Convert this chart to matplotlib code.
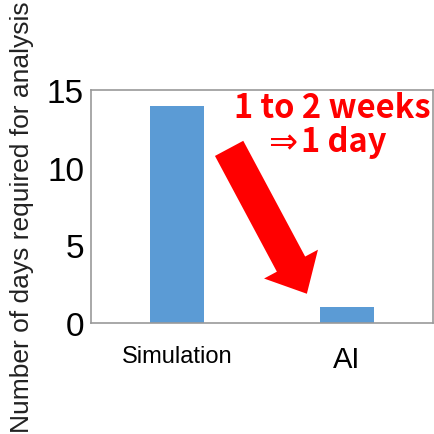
import matplotlib
matplotlib.use('Agg')
import matplotlib.pyplot as plt
from matplotlib.patches import FancyArrowPatch

categories = ['Simulation', 'AI']
days = [14, 1]
yticks = [0, 5, 10, 15]

plt.rcParams['font.family'] = ['Liberation Sans', 'DejaVu Sans']

fig = plt.figure(figsize=(4.35, 4.35), dpi=100)
ax = fig.add_axes([91 / 435, 1 - 324 / 435, 342 / 435, 233 / 435])

ax.bar(range(len(categories)), days, width=0.32, color='#5B9BD5')
ax.set_xlim(-0.506, 1.506)
ax.set_ylim(0, 15)
ax.set_yticks(yticks)
ax.set_yticklabels([str(t) for t in yticks], fontsize=24)
ax.set_xticks(range(len(categories)))
ax.set_xticklabels(categories)
for lab, fs in zip(ax.get_xticklabels(), [17, 21]):
    lab.set_fontsize(fs)
ax.tick_params(length=0, pad=5)
ax.tick_params(axis='x', pad=16)
for s in ax.spines.values():
    s.set_color('#999999')
    s.set_linewidth(1.2)

fig.text(22 / 435, 0.5, 'Number of days required for analysis', rotation=90,
         ha='center', va='center', fontsize=19, color='#222222')

# red arrow
arrow = FancyArrowPatch((0.40, 0.76), (0.635, 0.115), transform=ax.transAxes,
                        arrowstyle='simple,head_width=2.0,head_length=1.1,tail_width=1.05',
                        mutation_scale=22, color='#FF0000', lw=0)
ax.add_patch(arrow)

ax.text(0.705, 0.927, '1 to 2 weeks', transform=ax.transAxes, ha='center', va='center',
        fontsize=23.5, fontweight='bold', color='#FF0000',
        family=['Noto Sans CJK JP', 'DejaVu Sans'])
ax.text(0.56, 0.777, '\u21d2', transform=ax.transAxes, ha='center', va='center',
        fontsize=25, color='#FF0000', family=['DejaVu Sans'])
ax.text(0.615, 0.777, '1 day', transform=ax.transAxes, ha='left', va='center',
        fontsize=23.5, fontweight='bold', color='#FF0000',
        family=['Noto Sans CJK JP', 'DejaVu Sans'])

fig.savefig('out.png', dpi=100)
